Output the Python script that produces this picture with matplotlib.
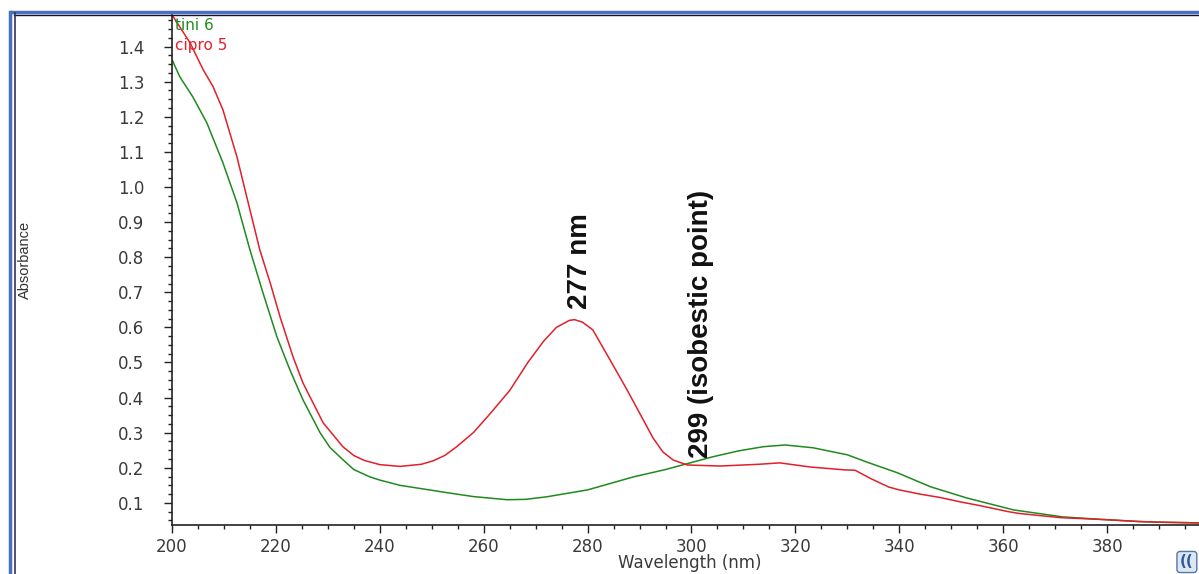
"""UV-Vis absorbance spectra: tini 6 vs cipro 5, with 277 nm peak and isobestic point."""

import matplotlib.pyplot as plt
from matplotlib.lines import Line2D
from matplotlib.ticker import MultipleLocator

# red trace (cipro 5)
cipro_wl = [200, 200.2, 203.5, 206, 207.9, 209.8, 212.5, 215, 216.9, 218.9, 220.8, 223.3,
            225.2, 229.1, 232.9, 235, 237, 240, 243.9, 248, 250.3, 252.5, 254.8, 258, 261,
            265, 268.5, 271.5, 274, 276.5, 277.5, 279, 281, 284.3, 287.6, 290.7, 292.6,
            294.5, 296.5, 299.2, 305.5, 313, 317, 323, 329.6, 331.5, 334.4, 338, 340, 344,
            348, 351.7, 355.6, 361, 363, 371, 380, 386, 390, 397.7]
cipro_abs = [1.49, 1.486, 1.41, 1.334, 1.286, 1.22, 1.086, 0.935, 0.821, 0.727, 0.63, 0.516,
             0.442, 0.328, 0.26, 0.235, 0.221, 0.209, 0.204, 0.21, 0.22, 0.235, 0.26, 0.30,
             0.35, 0.42, 0.50, 0.56, 0.60, 0.62, 0.622, 0.615, 0.593, 0.508, 0.422, 0.337,
             0.285, 0.245, 0.222, 0.208, 0.205, 0.21, 0.214, 0.202, 0.194, 0.193, 0.17,
             0.145, 0.137, 0.125, 0.115, 0.103, 0.092, 0.075, 0.07, 0.058, 0.052, 0.047,
             0.045, 0.043]

# green trace (tini 6)
tini_wl = [200, 201.5, 204, 206.7, 209.8, 212.5, 215, 217.5, 220.2, 222.7, 225.2, 228.5,
           230.4, 232.9, 235, 238.1, 240, 243.9, 253, 258, 264.5, 268, 272, 280, 288.8, 295,
           299, 304, 309, 313.8, 318, 323.4, 330, 334, 339.6, 346, 353, 362, 371.5, 380, 386,
           390, 397.7]
tini_abs = [1.363, 1.314, 1.257, 1.183, 1.069, 0.955, 0.821, 0.699, 0.573, 0.479, 0.394,
            0.30, 0.258, 0.223, 0.195, 0.174, 0.165, 0.15, 0.129, 0.118, 0.109, 0.11, 0.117,
            0.137, 0.174, 0.195, 0.211, 0.231, 0.248, 0.26, 0.265, 0.257, 0.237, 0.215, 0.186,
            0.146, 0.114, 0.08, 0.06, 0.052, 0.047, 0.045, 0.043]

GREEN = "#1f8a1f"
RED = "#e0202a"


def main() -> None:
    plt.rcParams["font.family"] = ["DejaVu Sans"]
    fig = plt.figure(figsize=(11.99, 5.74), dpi=100)
    ax = fig.add_axes([172 / 1199, 49 / 574, 1 - 172 / 1199, 510 / 574])

    ax.plot(tini_wl, tini_abs, color=GREEN, lw=1.1)
    ax.plot(cipro_wl, cipro_abs, color=RED, lw=1.1)

    ax.set_xlim(200, 397.7)
    ax.set_ylim(0.037, 1.49)

    for side in ("top", "right"):
        ax.spines[side].set_visible(False)
    for side in ("left", "bottom"):
        ax.spines[side].set_linewidth(1.2)
        ax.spines[side].set_color("#222222")

    ax.xaxis.set_major_locator(MultipleLocator(20))
    ax.xaxis.set_minor_locator(MultipleLocator(5))
    ax.yaxis.set_minor_locator(MultipleLocator(0.025))
    ax.set_yticks([v / 10 for v in range(1, 15)])
    ax.set_yticklabels([f"{v / 10:.1f}" for v in range(1, 15)])
    ax.tick_params(which="major", length=6, width=1.0, labelsize=12, colors="#222222",
                   labelcolor="#3a3a3a")
    ax.tick_params(which="minor", length=3, width=1.0, colors="#222222")
    ax.tick_params(axis="y", pad=14)
    ax.tick_params(axis="x", pad=3)

    ax.set_xlabel("Wavelength (nm)", fontsize=12, color="#3a3a3a")
    ax.xaxis.set_label_coords((690 - 172) / (1199 - 172), -0.056)
    ax.set_ylabel("Absorbance", fontsize=10.5, color="#333333", family="Liberation Sans")
    ax.yaxis.set_label_coords(-(172 - 32) / (1199 - 172), 0.52)

    # series labels in the corner
    ax.text(0.003, 0.995, "tini 6", transform=ax.transAxes, color=GREEN, fontsize=11,
            va="top", ha="left")
    ax.text(0.003, 0.955, "cipro 5", transform=ax.transAxes, color=RED, fontsize=11,
            va="top", ha="left")

    bold = ["Liberation Sans", "DejaVu Sans"]
    ax.text(278.6, 0.653, "277 nm", rotation=90, ha="center", va="bottom", fontsize=20,
            fontweight="bold", family=bold, color="#111111")
    ax.text(301.9, 0.228, "299 (isobestic point)", rotation=90, ha="center", va="bottom",
            fontsize=20, fontweight="bold", family=bold, color="#111111")

    # window frame
    fig.add_artist(Line2D([12 / 1199, 1], [1 - 12 / 574] * 2, color="#4a6fc0", lw=2.5))
    fig.add_artist(Line2D([14 / 1199, 1], [1 - 14.5 / 574] * 2, color="#111133", lw=1.0))
    fig.add_artist(Line2D([10 / 1199] * 2, [0, 1 - 12 / 574], color="#4a6fc0", lw=2.5))
    fig.add_artist(Line2D([15 / 1199] * 2, [0, 1 - 13 / 574], color="#333355", lw=1.2))

    fig.text(1180 / 1199, 1 - 562 / 574, "((", fontsize=11, fontweight="bold",
             color="#2a5aa0", ha="left", va="center",
             bbox=dict(boxstyle="round,pad=0.2", fc="#dde6f2", ec="#5577aa", lw=1))

    fig.savefig("out.png", dpi=100)


if __name__ == "__main__":
    main()
